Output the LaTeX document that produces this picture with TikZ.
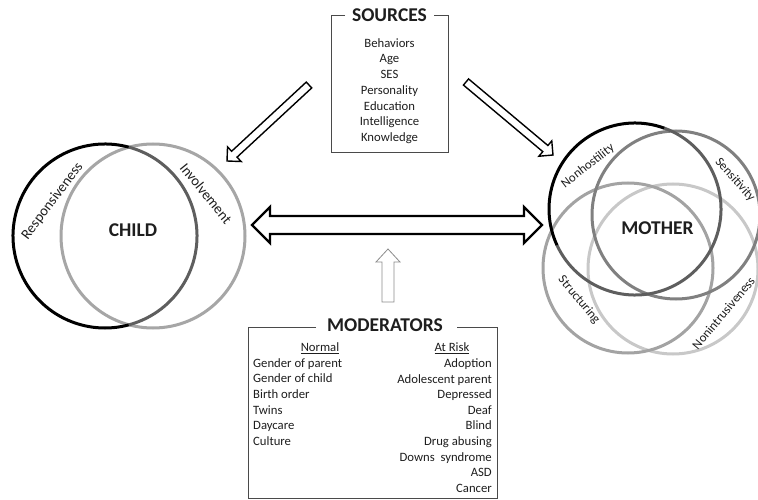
\documentclass[tikz,border=0pt]{standalone}
\usepackage{fontspec}
\setmainfont{Carlito}
\usetikzlibrary{calc}
\definecolor{txt}{HTML}{1E1E1E}
\definecolor{ringA}{HTML}{5E5E5E}
\definecolor{ringB}{HTML}{A6A6A6}
\definecolor{ringSe}{HTML}{808080}
\definecolor{ringSt}{HTML}{A3A3A3}
\definecolor{ringNi}{HTML}{C8C8C8}
\definecolor{boxc}{HTML}{4A4A4A}
\definecolor{uparr}{HTML}{8C8C8C}
% hollow single block arrow: tail, tip, half shaft, half head, head length, style
\newcommand\hollowarrow[6]{%
  \coordinate (#2-base) at ($(#2)!#5!(#1)$);
  \draw[#6] ($(#1)!#3!90:(#2)$) -- ($(#2-base)!#3!90:(#2)$) -- ($(#2-base)!#4!90:(#2)$) -- (#2)
    -- ($(#2-base)!#4!-90:(#2)$) -- ($(#2-base)!#3!-90:(#2)$) -- ($(#1)!#3!-90:(#2)$) -- cycle;}
% hollow double block arrow: tip1, tip2, half shaft, half head, head length, style
\newcommand\hollowdblarrow[6]{%
  \coordinate (#1-base) at ($(#1)!#5!(#2)$);
  \coordinate (#2-base) at ($(#2)!#5!(#1)$);
  \draw[#6] (#1) -- ($(#1-base)!#4!90:(#2)$) -- ($(#1-base)!#3!90:(#2)$) -- ($(#2-base)!#3!90:(#2)$)
    -- ($(#2-base)!#4!90:(#2)$) -- (#2) -- ($(#2-base)!#4!-90:(#2)$) -- ($(#2-base)!#3!-90:(#2)$)
    -- ($(#1-base)!#3!-90:(#2)$) -- ($(#1-base)!#4!-90:(#2)$) -- cycle;}
\begin{document}
\begin{tikzpicture}[x=1pt,y=1pt,
  lbl/.style={text=txt, inner sep=0pt, font=\fontsize{12.8}{15}\selectfont},
  clbl/.style={text=txt, inner sep=0pt, font=\fontsize{14.5}{17}\selectfont},
  ttl/.style={text=txt, inner sep=0pt, font=\bfseries\fontsize{19.5}{22}\selectfont},
  lst/.style={text=txt, inner sep=0pt, font=\fontsize{12.7}{15.6}\selectfont},
  srclst/.style={text=txt, inner sep=0pt, font=\fontsize{12.7}{15.7}\selectfont},
  boxline/.style={draw=boxc, line width=0.9pt},
  ring/.style={line width=3pt},
  thinarrow/.style={draw=black, fill=white, line width=1.4pt, line join=miter},
  bigarrow/.style={draw=black, fill=white, line width=2.4pt, line join=miter},
  modarrow/.style={draw=uparr, fill=white, line width=0.8pt, line join=miter},
]
\useasboundingbox (0,0) rectangle (758,-500);
\fill[white] (0,0) rectangle (758,-500);

% ---------- CHILD ----------
\coordinate (cR) at (105,-236);
\coordinate (cI) at (153,-236);
\draw[ring, ringB] (cI) circle (92pt);
\draw[ring, black] ($(cR)+(75:92pt)$) arc[start angle=75, end angle=285, radius=92pt];
\draw[ring, ringA] ($(cR)+(-75:92pt)$) arc[start angle=-75, end angle=75, radius=92pt];
\node[ttl] (child) at (133,-230) {CHILD};
\node[clbl, rotate=53] (resp) at (52.5,-201) {Responsiveness};
\node[clbl, rotate=-51] (invo) at (206,-193.5) {Involvement};

% ---------- MOTHER ----------
\coordinate (mN) at (635,-209);
\coordinate (mSe) at (676,-215);
\coordinate (mSt) at (628,-268);
\coordinate (mNi) at (673,-269);
\draw[ring, ringNi] (mNi) circle (85pt);
\draw[ring, ringSt] (mSt) circle (85pt);
\draw[ring, ringSe] (mSe) circle (84pt);
\draw[ring, ringA] ($(mN)+(205:86pt)$) arc[start angle=205, end angle=430, radius=86pt];
\draw[ring, black] ($(mN)+(70:86pt)$) arc[start angle=70, end angle=205, radius=86pt];
\node[ttl] (mother) at (657.5,-228.5) {MOTHER};
\node[lbl, rotate=38] (nonh) at (588,-166) {Nonhostility};
\node[lbl, rotate=-48] (sens) at (735,-180) {Sensitivity};
\node[lbl, rotate=-50] (stru) at (579,-300) {Structuring};
\node[lbl, rotate=50] (noni) at (723.5,-313) {Nonintrusiveness};

% ---------- SOURCES ----------
\node[ttl] (sources) at (389.5,-15.5) {SOURCES};
\draw[boxline] (345,-15) -- (331,-15) -- (331,-152) -- (448,-152) -- (448,-15) -- (434,-15);
\node[srclst, align=center] (srclist) at (389.5,-91)
  {Behaviors\\Age\\SES\\Personality\\Education\\Intelligence\\Knowledge};

% ---------- MODERATORS ----------
\node[ttl] (moderators) at (385,-325) {MODERATORS};
\draw[boxline] (316,-327) -- (248,-327) -- (248,-498.5) -- (497,-498.5) -- (497,-327) -- (457,-327);
\node[lst, anchor=base] (normal) at (320,-351.5) {\underline{Normal}};
\node[lst, anchor=base] (atrisk) at (452,-351.5) {\underline{At Risk}};
\node[lst, anchor=west, align=left] (normlist) at (253,-402)
  {Gender of parent\\Gender of child\\Birth order\\Twins\\Daycare\\Culture};
\node[lst, anchor=east, align=right] (risklist) at (492,-425.5)
  {Adoption\\Adolescent parent\\Depressed\\Deaf\\Blind\\Drug abusing\\Downs\ \ syndrome\\ASD\\Cancer};

% ---------- ARROWS ----------
\coordinate (dL) at (252,-225);
\coordinate (dR) at (542,-225);
\hollowdblarrow{dL}{dR}{9pt}{18pt}{18pt}{bigarrow}

\coordinate (lTail) at (309,-85);
\coordinate (lTip) at (227,-161);
\hollowarrow{lTail}{lTip}{4pt}{10pt}{10pt}{thinarrow}

\coordinate (rTail) at (466,-82);
\coordinate (rTip) at (553,-155);
\hollowarrow{rTail}{rTip}{4pt}{10pt}{10pt}{thinarrow}

\coordinate (uTail) at (388,-302);
\coordinate (uTip) at (388,-249);
\hollowarrow{uTail}{uTip}{6pt}{12pt}{13pt}{modarrow}
\end{tikzpicture}
\end{document}
